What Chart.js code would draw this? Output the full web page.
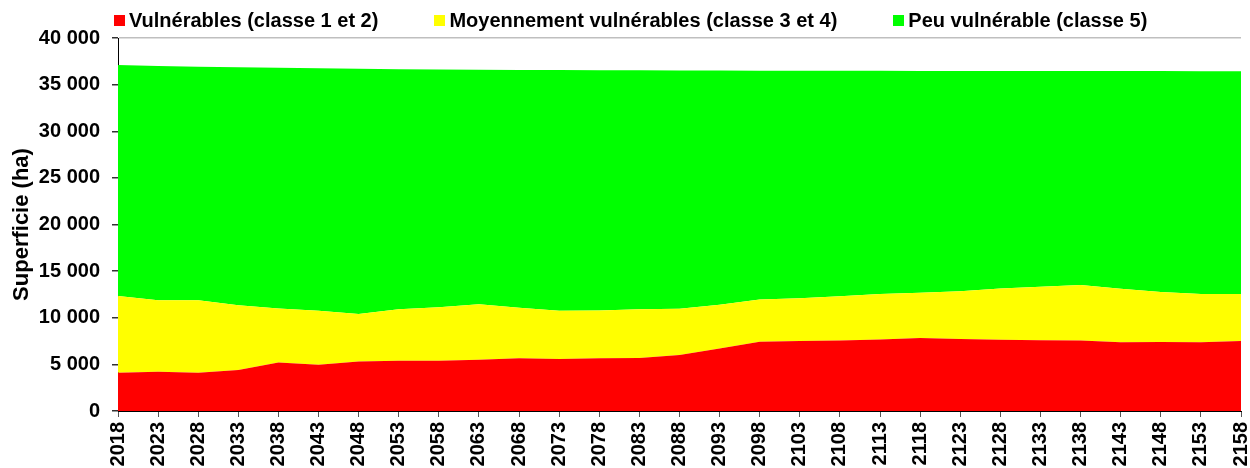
<!DOCTYPE html>
<html><head><meta charset="utf-8">
<script src="https://cdn.jsdelivr.net/npm/chart.js@4.4.0/dist/chart.umd.min.js"></script>
<style>
html,body{margin:0;padding:0;background:#fff;}
#wrap{position:relative;width:1250px;height:468px;}
#legend{position:absolute;left:114px;top:9px;display:flex;align-items:center;font:bold 20px "Liberation Sans",Arial,sans-serif;color:#000;white-space:nowrap;}
.item{display:flex;align-items:center;margin-right:56px;}
.box{width:11px;height:11px;margin-right:4px;}
</style></head><body>
<div id="wrap"><canvas id="c" width="1250" height="468"></canvas><div id="legend"></div></div>
<script>
const categories = ['2018','2023','2028','2033','2038','2043','2048','2053','2058','2063','2068','2073','2078','2083','2088','2093','2098','2103','2108','2113','2118','2123','2128','2133','2138','2143','2148','2153','2158'];
const seriesNames = ['Vulnérables (classe 1 et 2)','Moyennement vulnérables (classe 3 et 4)','Peu vulnérable (classe 5)'];
const vulnerables = [4100,4200,4100,4400,5200,4950,5300,5400,5400,5500,5650,5580,5650,5680,6000,6690,7430,7500,7550,7660,7830,7720,7650,7580,7550,7370,7400,7370,7500];
const moyennementVulnerables = [8230,7670,7770,6930,5800,5810,5100,5500,5720,5940,5430,5180,5140,5220,4970,4710,4540,4600,4750,4890,4860,5110,5500,5750,5950,5730,5360,5180,5050];
const peuVulnerable = [24770,25130,25050,25530,25800,25990,26300,25760,25510,25160,25500,25800,25750,25630,25550,25110,24530,24390,24180,23930,23780,23640,23310,23130,22960,23350,23690,23890,23890];
const seriesColors = ['#ff0000','#ffff00','#00ff00'];
const yAxisTitle = 'Superficie (ha)';

const FONT = '"Liberation Sans", Arial, sans-serif';
const seriesData = [vulnerables, moyennementVulnerables, peuVulnerable];

const chart = new Chart(document.getElementById('c'), {
  type: 'line',
  data: {
    labels: categories,
    datasets: seriesData.map((d, i) => ({
      label: seriesNames[i],
      data: d,
      backgroundColor: seriesColors[i],
      borderColor: seriesColors[i],
      borderWidth: 0,
      pointRadius: 0,
      pointHoverRadius: 0,
      fill: i === 0 ? 'origin' : '-1',
      tension: 0
    }))
  },
  options: {
    responsive: false,
    animation: false,
    events: [],
    layout: { padding: { left: 0, right: 9, top: 38, bottom: 0 } },
    plugins: { legend: { display: false }, tooltip: { enabled: false } },
    scales: {
      x: {
        offset: false,
        grid: { drawOnChartArea: false, drawTicks: true, tickLength: 6, tickColor: '#555' },
        border: { display: true, color: '#000', width: 1 },
        ticks: { autoSkip: false, maxRotation: 90, minRotation: 90, padding: 5, color: '#000', font: { family: FONT, size: 20, weight: 'bold' } },
        afterFit: s => { s.height = 57; s.paddingRight = 0; s.paddingLeft = 0; }
      },
      y: {
        stacked: true,
        min: 0, max: 40000,
        grid: {
          color: c => (c.tick && c.tick.value === 40000) ? '#bfbfbf' : 'rgba(0,0,0,0)',
          tickColor: '#333', tickLength: 6, lineWidth: 1.5
        },
        border: { display: true, color: '#000', width: 1 },
        ticks: {
          stepSize: 5000, padding: 12, color: '#000',
          font: { family: FONT, size: 20, weight: 'bold' },
          callback: v => v.toLocaleString('en-US').replace(/,/g, ' ')
        },
        title: { display: true, text: yAxisTitle, color: '#000', font: { family: FONT, size: 22, weight: 'bold' }, padding: { top: 9, bottom: 0 } },
        afterFit: s => { s.width = 118; }
      }
    }
  }
});

const legend = document.getElementById('legend');
chart.data.datasets.forEach(ds => {
  const item = document.createElement('div'); item.className = 'item';
  const box = document.createElement('div'); box.className = 'box'; box.style.background = ds.backgroundColor;
  const t = document.createElement('span'); t.textContent = ds.label;
  item.appendChild(box); item.appendChild(t); legend.appendChild(item);
});
</script>
</body></html>
